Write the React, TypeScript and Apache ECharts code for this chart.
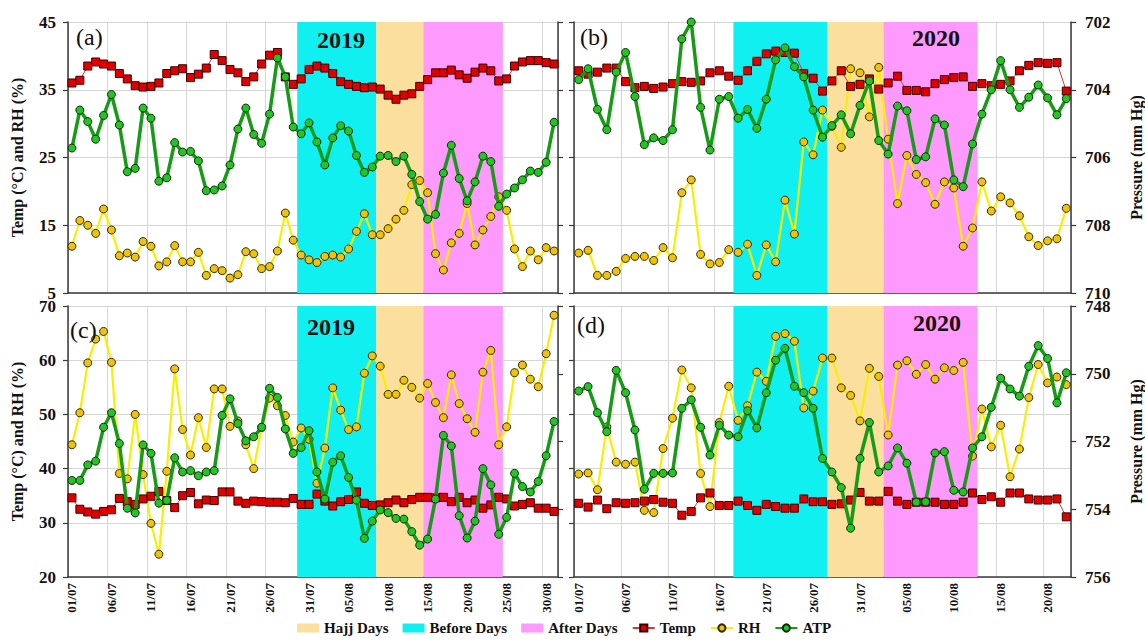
import React, { useEffect, useRef } from "react";
import * as echarts from "echarts";

// ---------- categories ----------
const pad = (n: number) => (n < 10 ? "0" + n : "" + n);
const julAug = (count: number) =>
  Array.from({ length: count }, (_, i) => (i < 31 ? pad(i + 1) + "/07" : pad(i - 30) + "/08"));
const dates2019 = julAug(62); // 01/07 .. 31/08
const dates2020 = julAug(53); // 01/07 .. 22/08

// ---------- period bands ----------
const bands2019 = [
  { name: "Before Days", from: "30/07", to: "08/08" },
  { name: "Hajj Days", from: "09/08", to: "14/08" },
  { name: "After Days", from: "15/08", to: "24/08" },
];
const bands2020 = [
  { name: "Before Days", from: "18/07", to: "27/07" },
  { name: "Hajj Days", from: "28/07", to: "02/08" },
  { name: "After Days", from: "03/08", to: "12/08" },
];

// ---------- (a) 2019 ----------
const tempA = [36.0, 36.4, 38.5, 39.1, 38.8, 38.5, 37.4, 36.6, 35.6, 35.4, 35.5, 36.0, 37.4, 37.8, 38.1, 36.8, 37.3, 38.2, 40.2, 39.3, 38.0, 37.5, 36.2, 36.9, 38.8, 40.1, 40.5, 36.9, 35.8, 36.6, 38.0, 38.5, 38.2, 37.4, 36.2, 35.8, 35.5, 35.3, 35.4, 35.1, 34.2, 33.6, 34.2, 34.4, 35.5, 36.5, 37.5, 37.5, 37.9, 37.2, 36.7, 37.6, 38.2, 37.8, 36.3, 36.6, 38.5, 39.1, 39.3, 39.3, 39.0, 38.8];
const rhA = [11.9, 15.7, 15.0, 13.8, 17.4, 14.3, 10.5, 10.9, 10.3, 12.6, 11.9, 9.0, 9.6, 12.0, 9.6, 9.6, 11.0, 7.6, 8.6, 8.3, 7.2, 7.7, 11.1, 10.8, 8.6, 8.9, 11.2, 16.8, 12.8, 10.6, 9.9, 9.5, 10.4, 10.6, 10.3, 11.5, 14.1, 16.7, 13.6, 13.6, 14.5, 15.9, 17.2, 21.0, 21.6, 19.8, 10.8, 8.4, 12.4, 13.8, 18.2, 12.1, 14.3, 16.3, 19.2, 17.2, 11.5, 8.9, 11.2, 9.9, 11.7, 11.2];
const atpA = [705.72, 704.6, 704.94, 705.46, 704.76, 704.14, 705.04, 706.42, 706.32, 704.54, 704.84, 706.7, 706.6, 705.56, 705.84, 705.82, 706.1, 706.98, 706.96, 706.84, 706.22, 705.16, 704.54, 705.32, 705.58, 704.72, 703.06, 703.62, 705.1, 705.3, 704.98, 705.54, 706.22, 705.42, 705.06, 705.22, 705.94, 706.44, 706.28, 705.96, 705.94, 706.12, 705.96, 706.5, 707.3, 707.82, 707.68, 706.46, 705.64, 706.62, 707.28, 706.72, 705.96, 706.12, 707.44, 707.08, 706.9, 706.66, 706.4, 706.44, 706.14, 704.96];

// ---------- (b) 2020 ----------
const tempB = [37.8, 37.3, 37.6, 38.2, 38.2, 36.2, 35.3, 35.5, 35.2, 35.4, 35.9, 36.2, 36.1, 36.3, 37.5, 37.8, 37.0, 36.4, 37.8, 39.2, 40.3, 40.7, 40.5, 40.4, 37.4, 36.7, 34.8, 36.3, 37.8, 35.5, 35.8, 36.6, 35.1, 36.0, 37.0, 34.9, 34.9, 34.7, 35.9, 36.5, 36.8, 36.9, 35.5, 35.9, 35.6, 35.8, 36.3, 37.8, 38.6, 39.0, 38.9, 39.0, 34.8];
const rhB = [10.9, 11.3, 7.6, 7.6, 8.2, 10.1, 10.4, 10.4, 9.8, 11.7, 10.2, 19.8, 21.7, 10.7, 9.3, 9.5, 11.4, 11.0, 12.2, 7.6, 12.1, 9.6, 18.7, 13.7, 27.3, 25.4, 32.0, 29.6, 26.5, 38.1, 37.5, 31.0, 38.3, 27.7, 18.2, 25.3, 22.5, 21.3, 18.1, 21.4, 20.5, 11.9, 14.6, 21.4, 17.1, 19.2, 18.3, 16.4, 13.3, 12.0, 12.7, 13.0, 17.5];
const atpB = [703.7, 703.38, 704.58, 705.18, 703.48, 702.9, 704.2, 705.62, 705.42, 705.5, 705.18, 702.5, 702.0, 704.52, 705.78, 704.28, 704.2, 704.84, 704.58, 705.14, 704.28, 703.12, 702.76, 703.32, 703.62, 704.6, 705.4, 705.06, 704.74, 705.3, 704.46, 703.74, 705.5, 705.9, 704.48, 704.62, 706.06, 705.98, 704.86, 705.04, 706.66, 706.86, 705.6, 704.72, 704.0, 703.14, 704.0, 704.52, 704.22, 703.86, 704.24, 704.74, 704.26];

// ---------- (c) 2019 ----------
const tempC = [34.6, 32.5, 32.0, 31.6, 32.1, 32.4, 34.5, 33.9, 33.4, 34.4, 34.9, 35.8, 34.1, 32.8, 35.0, 35.6, 33.5, 34.2, 34.1, 35.7, 35.7, 34.0, 33.6, 34.0, 33.9, 33.8, 33.8, 33.7, 34.5, 33.4, 33.4, 35.3, 34.0, 33.1, 33.9, 34.3, 35.7, 33.6, 33.2, 33.3, 33.7, 34.2, 33.7, 34.3, 34.7, 34.7, 34.6, 34.7, 33.9, 34.7, 33.7, 34.2, 32.7, 33.3, 34.7, 34.4, 33.1, 33.4, 33.7, 32.7, 32.7, 32.1];
const rhC = [44.4, 50.3, 59.5, 63.9, 65.3, 59.6, 39.1, 38.1, 50.0, 38.9, 29.9, 24.2, 39.5, 58.4, 47.2, 42.5, 49.4, 43.9, 54.7, 54.7, 47.8, 48.8, 44.4, 40.0, 47.6, 53.0, 51.6, 49.8, 44.9, 47.5, 45.4, 37.3, 43.8, 54.9, 50.8, 47.2, 47.7, 57.6, 60.8, 58.9, 53.7, 53.7, 56.3, 55.0, 53.0, 55.7, 52.2, 49.4, 57.3, 52.0, 49.2, 46.7, 57.8, 61.8, 44.4, 47.7, 57.7, 59.1, 56.5, 55.1, 61.2, 68.3];
const atpC = [753.15, 753.15, 752.69, 752.58, 751.58, 751.15, 752.06, 753.97, 754.11, 752.1, 752.35, 753.82, 753.74, 752.48, 752.9, 752.86, 753.01, 752.9, 752.86, 751.23, 750.74, 751.47, 751.98, 751.86, 751.58, 750.43, 750.7, 751.63, 752.35, 752.18, 751.68, 752.9, 753.7, 752.61, 752.42, 753.06, 753.73, 754.86, 754.35, 754.02, 754.1, 754.27, 754.29, 754.66, 755.06, 754.88, 753.7, 751.82, 752.13, 754.19, 754.85, 754.35, 752.8, 753.28, 754.74, 754.24, 752.94, 753.33, 753.49, 753.18, 752.42, 751.41];

// ---------- (d) 2020 ----------
const tempD = [33.6, 32.9, 34.2, 32.6, 33.7, 33.6, 33.7, 34.0, 34.3, 33.8, 33.6, 31.4, 32.1, 34.6, 35.5, 33.2, 33.2, 34.0, 33.2, 32.3, 33.4, 33.0, 32.7, 32.7, 34.4, 33.9, 33.9, 33.4, 33.5, 34.2, 35.6, 34.0, 34.0, 35.8, 34.0, 33.4, 33.8, 33.8, 33.8, 33.4, 33.4, 33.8, 35.5, 34.3, 34.8, 33.8, 35.5, 35.5, 34.4, 34.2, 34.2, 34.4, 31.1];
const rhD = [39.0, 39.2, 36.1, 47.7, 41.2, 40.8, 41.2, 32.3, 31.9, 43.7, 49.3, 58.2, 54.9, 39.1, 33.0, 48.5, 55.2, 48.9, 51.6, 57.8, 56.1, 64.4, 64.9, 63.5, 51.2, 54.3, 60.4, 60.4, 54.9, 53.5, 48.8, 58.5, 57.0, 46.2, 59.1, 59.9, 57.4, 59.2, 56.5, 58.6, 58.1, 59.6, 42.3, 51.0, 44.0, 48.0, 38.5, 43.6, 53.1, 59.2, 55.8, 56.9, 55.5];
const atpD = [750.51, 750.38, 751.15, 751.71, 749.9, 750.56, 751.66, 753.41, 752.94, 752.94, 752.93, 751.02, 750.77, 751.58, 752.4, 751.52, 751.81, 751.86, 751.09, 751.6, 750.56, 749.6, 749.25, 750.37, 750.56, 751.02, 752.5, 752.9, 753.36, 754.56, 752.5, 751.44, 752.9, 752.72, 752.19, 752.64, 753.79, 753.78, 752.34, 752.3, 753.44, 753.49, 752.19, 751.86, 750.99, 750.13, 750.45, 750.66, 749.78, 749.17, 749.55, 750.86, 749.97];

// ---------- axis ranges ----------
const tempRangeTop = [5, 45];
const tempRangeBottom = [20, 70];
const presRangeTop = [702, 710];
const presRangeBottom = [748, 756];

const bandColors: Record<string, string> = {
  "Hajj Days": "#fbdf9c",
  "Before Days": "#10f0f0",
  "After Days": "#fe99fd",
};

const SERIF = "'Times New Roman', 'Liberation Serif', 'DejaVu Serif', serif";

const panels = [
  { label: "(a)", year: "2019", dates: dates2019, bands: bands2019, temp: tempA, rh: rhA, atp: atpA, tr: tempRangeTop, pr: presRangeTop, grid: { left: 68, top: 22, width: 490, height: 271 }, isLeft: true, isBottom: false, labelPos: [76, 37], yearPos: [341, 40] },
  { label: "(b)", year: "2020", dates: dates2020, bands: bands2020, temp: tempB, rh: rhB, atp: atpB, tr: tempRangeTop, pr: presRangeTop, grid: { left: 574, top: 22, width: 504, height: 271 }, isLeft: false, isBottom: false, labelPos: [580, 37], yearPos: [936, 38] },
  { label: "(c)", year: "2019", dates: dates2019, bands: bands2019, temp: tempC, rh: rhC, atp: atpC, tr: tempRangeBottom, pr: presRangeBottom, grid: { left: 68, top: 306, width: 490, height: 271 }, isLeft: true, isBottom: true, labelPos: [70, 330], yearPos: [331, 327] },
  { label: "(d)", year: "2020", dates: dates2020, bands: bands2020, temp: tempD, rh: rhD, atp: atpD, tr: tempRangeBottom, pr: presRangeBottom, grid: { left: 574, top: 306, width: 504, height: 271 }, isLeft: false, isBottom: true, labelPos: [577, 325], yearPos: [937, 323] },
];

const axisLineStyle = { color: "#3a3a3a", width: 1.5 };
const tickStyle = { color: "#3a3a3a", width: 1.2 };

function buildOption() {
  const grid: any[] = [];
  const xAxis: any[] = [];
  const yAxis: any[] = [];
  const series: any[] = [];
  const graphic: any[] = [];

  panels.forEach((p, g) => {
    grid.push({ ...p.grid, containLabel: false });
    xAxis[g] = {
      type: "category",
      gridIndex: g,
      data: p.dates,
      boundaryGap: true,
      axisLine: { lineStyle: axisLineStyle },
      axisTick: { interval: 4, length: 5, lineStyle: tickStyle },
      axisLabel: {
        show: p.isBottom,
        interval: 4,
        rotate: 90,
        margin: 6,
        color: "#111",
        fontFamily: SERIF,
        fontWeight: "bold",
        fontSize: 13,
      },
      splitLine: { show: true, interval: 4, lineStyle: { color: "#d6d6d6", width: 1 } },
    };
    xAxis[4 + g] = {
      type: "value",
      gridIndex: g,
      min: 0,
      max: p.dates.length,
      show: false,
    };
    yAxis[g] = {
      type: "value",
      gridIndex: g,
      position: "left",
      min: p.tr[0],
      max: p.tr[1],
      interval: 10,
      name: p.isLeft ? "Temp (°C) and RH (%)" : "",
      nameLocation: "middle",
      nameGap: 43,
      nameTextStyle: { fontFamily: SERIF, fontWeight: "bold", fontSize: 16, color: "#111" },
      axisLine: { show: true, lineStyle: axisLineStyle },
      axisTick: { show: true, length: 5, lineStyle: tickStyle },
      axisLabel: {
        show: p.isLeft,
        margin: 12,
        color: "#111",
        fontFamily: SERIF,
        fontWeight: "bold",
        fontSize: 17,
      },
      splitLine: { show: true, lineStyle: { color: "#d6d6d6", width: 1 } },
    };
    yAxis[4 + g] = {
      type: "value",
      gridIndex: g,
      position: "right",
      inverse: true,
      min: p.pr[0],
      max: p.pr[1],
      interval: 2,
      name: p.isLeft ? "" : "Pressure (mm Hg)",
      nameLocation: "middle",
      nameRotate: 90,
      nameGap: 57,
      nameTextStyle: { fontFamily: SERIF, fontWeight: "bold", fontSize: 16, color: "#111" },
      axisLine: { show: true, lineStyle: axisLineStyle },
      axisTick: { show: true, length: 5, lineStyle: tickStyle },
      axisLabel: {
        show: !p.isLeft,
        margin: 14,
        color: "#111",
        fontFamily: SERIF,
        fontWeight: "bold",
        fontSize: 17,
      },
      splitLine: { show: false },
    };

    // shaded periods
    p.bands.forEach((b) => {
      const s = p.dates.indexOf(b.from);
      const e = p.dates.indexOf(b.to) + 1;
      series.push({
        name: b.name,
        type: "line",
        xAxisIndex: 4 + g,
        yAxisIndex: g,
        data: [],
        z: 1,
        silent: true,
        symbol: "none",
        itemStyle: { color: bandColors[b.name] },
        lineStyle: { color: bandColors[b.name] },
        markArea: {
          silent: true,
          itemStyle: { color: bandColors[b.name], opacity: 1 },
          data: [[{ xAxis: s }, { xAxis: e }]],
        },
      });
    });

    series.push({
      name: "Temp",
      type: "line",
      xAxisIndex: g,
      yAxisIndex: g,
      data: p.temp,
      z: 3,
      showAllSymbol: true,
      symbol: "rect",
      symbolSize: 8,
      lineStyle: { color: "#cf3a3a", width: 1 },
      itemStyle: { color: "#e00000", borderColor: "#3b0000", borderWidth: 1 },
    });
    series.push({
      name: "RH",
      type: "line",
      xAxisIndex: g,
      yAxisIndex: g,
      data: p.rh,
      z: 3,
      showAllSymbol: true,
      symbol: "circle",
      symbolSize: 8,
      lineStyle: { color: "#f6f000", width: 2.2 },
      itemStyle: { color: "#f0c20e", borderColor: "#2e2a00", borderWidth: 1 },
    });
    series.push({
      name: "ATP",
      type: "line",
      xAxisIndex: g,
      yAxisIndex: 4 + g,
      data: p.atp,
      z: 4,
      clip: false,
      showAllSymbol: true,
      symbol: "circle",
      symbolSize: 8,
      lineStyle: { color: "#179b17", width: 3.5 },
      itemStyle: { color: "#25c425", borderColor: "#0b2b0b", borderWidth: 1 },
    });

    graphic.push({
      type: "text",
      x: p.labelPos[0],
      y: p.labelPos[1],
      z: 10,
      style: {
        text: p.label,
        font: `24px ${SERIF}`,
        fill: "#111",
        textVerticalAlign: "middle",
      },
    });
    graphic.push({
      type: "text",
      x: p.yearPos[0],
      y: p.yearPos[1],
      z: 10,
      style: {
        text: p.year,
        font: `bold 24px ${SERIF}`,
        fill: "#111",
        textAlign: "center",
        textVerticalAlign: "middle",
      },
    });
  });

  return {
    animation: false,
    backgroundColor: "#ffffff",
    grid,
    xAxis,
    yAxis,
    series,
    graphic,
    legend: {
      left: 297,
      top: 619,
      itemWidth: 22,
      itemHeight: 9,
      itemGap: 14,
      padding: 0,
      textStyle: { fontFamily: SERIF, fontWeight: "bold", fontSize: 15, color: "#111", lineHeight: 18 },
      data: [
        { name: "Hajj Days", icon: "rect" },
        { name: "Before Days", icon: "rect" },
        { name: "After Days", icon: "rect" },
        { name: "Temp" },
        { name: "RH" },
        { name: "ATP" },
      ],
      selectedMode: false,
    },
  };
}

export default function App() {
  const ref = useRef<HTMLDivElement>(null);
  useEffect(() => {
    document.body.style.margin = "0";
    if (!ref.current) return;
    const chart = echarts.init(ref.current, undefined, { renderer: "svg" });
    chart.setOption(buildOption() as any);
    return () => chart.dispose();
  }, []);
  return (
    <div
      ref={ref}
      style={{ position: "absolute", left: 0, top: 0, width: 1145, height: 641, background: "#fff" }}
    />
  );
}
